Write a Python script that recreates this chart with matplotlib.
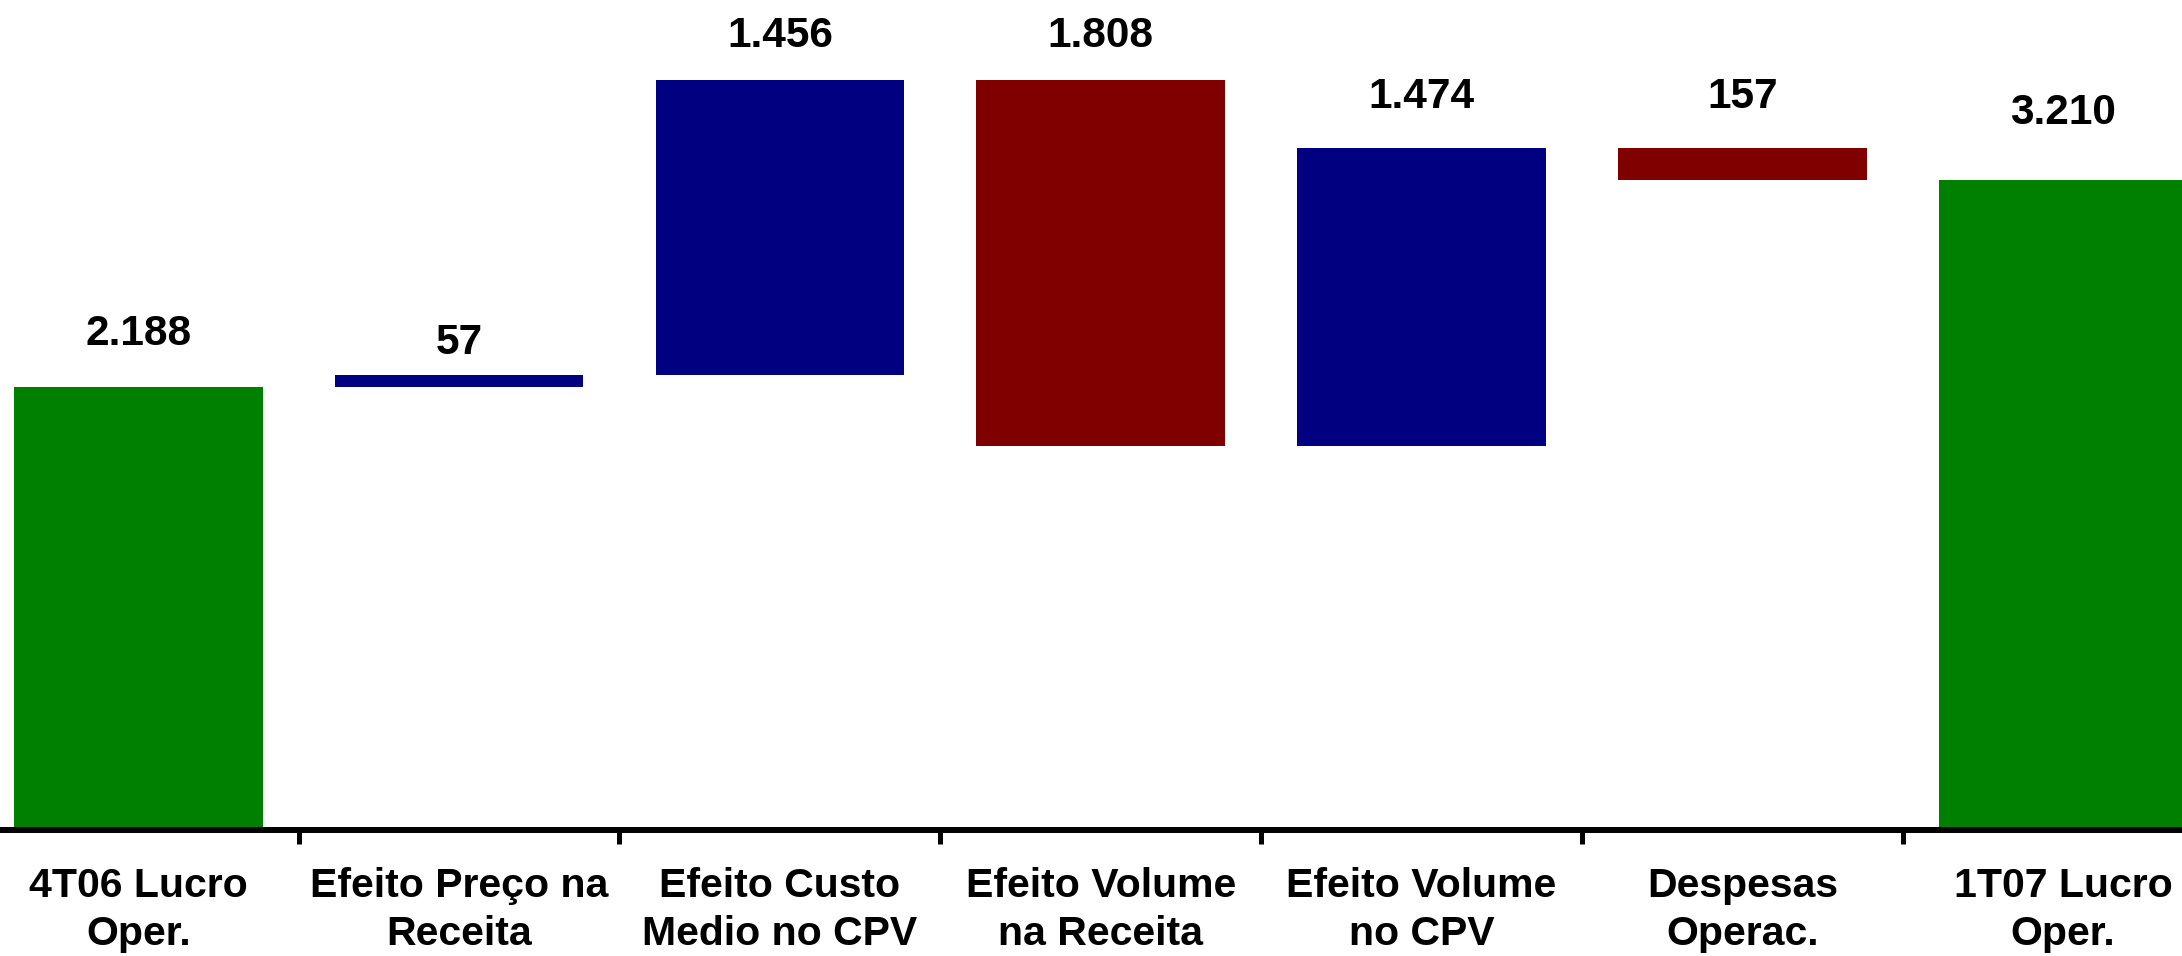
import matplotlib
matplotlib.use("Agg")
import matplotlib.pyplot as plt
import numpy as np

categories = ["4T06 Lucro\nOper.", "Efeito Preço na\nReceita", "Efeito Custo\nMedio no CPV",
              "Efeito Volume\nna Receita", "Efeito Volume\nno CPV", "Despesas\nOperac.",
              "1T07 Lucro\nOper."]
start_value = 2188
deltas = [57, 1456, -1808, 1474, -157]
end_value = 3210
value_labels = ["2.188", "57", "1.456", "1.808", "1.474", "157", "3.210"]

GREEN = "#008000"
NAVY = "#000080"
MAROON = "#800000"

# build waterfall geometry from data
bottoms, heights, colors = [0], [start_value], [GREEN]
cum = start_value
for d in deltas:
    new = cum + d
    bottoms.append(min(cum, new))
    heights.append(abs(d))
    colors.append(NAVY if d >= 0 else MAROON)
    cum = new
bottoms.append(0)
heights.append(end_value)
colors.append(GREEN)

plt.rcParams['font.family'] = ['Liberation Sans', 'DejaVu Sans']

W, H = 2182, 956
fig = plt.figure(figsize=(W / 100, H / 100), dpi=100)
ax = fig.add_axes([-22.1 / W, (H - 829.5) / H, 2245.6 / W, 829.5 / H])

x = np.arange(len(categories))
ax.bar(x, heights, bottom=bottoms, width=0.775, color=colors, zorder=2)

ax.set_xlim(-0.5, len(categories) - 0.5)
ax.set_ylim(0, 829.5 / 0.2024)

# label offsets above bar tops (pixels)
label_offsets_px = [42, 21, 33, 33, 40, 40, 56]
for i, (b, h, lab) in enumerate(zip(bottoms, heights, value_labels)):
    ax.annotate(lab, xy=(x[i], b + h), xytext=(0, label_offsets_px[i] * 72 / 100),
                textcoords="offset points", ha="center", va="baseline",
                fontsize=30.5, fontweight="bold", color="black")

for s in ["top", "right", "left"]:
    ax.spines[s].set_visible(False)
ax.spines["bottom"].set_linewidth(4.3)
ax.spines["bottom"].set_color("black")
ax.set_yticks([])

ax.set_xticks(np.arange(len(categories) - 1) + 0.5)
ax.set_xticklabels([])
ax.tick_params(axis="x", which="major", length=10, width=3.6, color="black", direction="out")
ax.set_xticks(x, minor=True)
ax.set_xticklabels(categories, minor=True, fontsize=29.5, fontweight="bold", linespacing=1.32)
ax.tick_params(axis="x", which="minor", length=0, pad=27)

fig.savefig("out.png", dpi=100, facecolor="white")
